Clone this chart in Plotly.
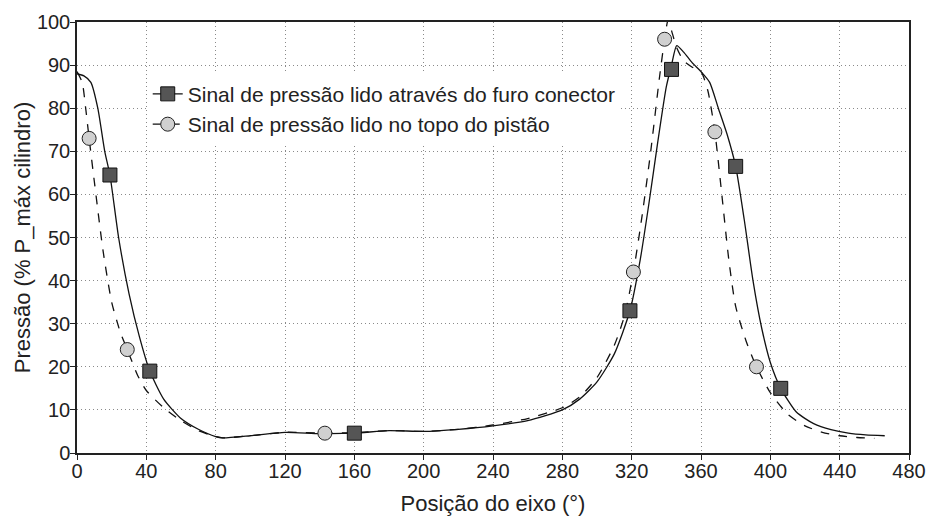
import plotly.graph_objects as go

# Curve: pressure read through the connector hole (solid)
x_furo = [0, 4, 8, 12, 16, 19, 24, 30, 36, 42, 50, 60, 70, 80, 84, 100, 120, 140, 160, 180,
          200, 220, 240, 260, 280, 290, 300, 310, 319, 325, 330, 335, 340, 343, 346, 350, 355,
          360, 365, 370, 375, 380, 385, 390, 395, 400, 406, 415, 425, 435, 445, 455, 466]
y_furo = [88, 87.5, 86, 80, 70, 64.5, 50, 37, 27, 19, 12.5, 8, 5.5, 3.8, 3.5, 4, 4.8, 4.5, 4.6, 5.2,
          5.0, 5.5, 6.3, 7.5, 10, 12.5, 16.5, 23, 33, 45, 58, 72, 85, 90, 94.5, 93, 90.5,
          88.5, 86, 80, 74, 66.5, 54, 40, 29, 21, 15, 9.5, 6.8, 5.4, 4.6, 4.2, 4]

# Curve: pressure read at the piston top (dashed)
x_pistao = [0, 3, 5, 7, 10, 15, 20, 25, 29, 35, 40, 50, 60, 70, 80, 84, 100, 120, 143, 160, 180,
            200, 220, 240, 260, 280, 290, 300, 310, 316, 321, 326, 331, 336, 339, 341, 343, 346,
            350, 355, 360, 364, 368, 372, 376, 380, 386, 392, 400, 410, 420, 430, 440, 450, 460]
y_pistao = [88.5, 86, 80, 73, 63, 47, 35, 28, 24, 18, 14.5, 10.5, 7.5, 5.2, 3.8, 3.5, 4, 4.8, 4.6, 4.7, 5.2,
            5.0, 5.5, 6.5, 8, 10.5, 13, 17.5, 25, 32, 42, 55, 70, 87, 96, 100.5, 98, 94,
            91, 89.5, 88.5, 84, 74.5, 60, 45, 34, 26, 20, 14, 9, 6.3, 4.8, 4, 3.6, 3.4]

# Marker positions
mk_furo_x = [19, 42, 160, 319, 343, 380, 406]
mk_furo_y = [64.5, 19, 4.6, 33, 89, 66.5, 15]
mk_pistao_x = [7, 29, 143, 321, 339, 368, 392]
mk_pistao_y = [73, 24, 4.6, 42, 96, 74.5, 20]

name_furo = "Sinal de pressão lido através do furo conector"
name_pistao = "Sinal de pressão lido no topo do pistão"

x_ticks = list(range(0, 481, 40))
y_ticks = list(range(0, 101, 10))

sq_marker = dict(symbol="square", size=14, color="#555555", line=dict(color="#111111", width=1))
ci_marker = dict(symbol="circle", size=14, color="#d0d0d0", line=dict(color="#222222", width=1))

fig = go.Figure()
fig.add_trace(go.Scatter(x=x_pistao, y=y_pistao, mode="lines", showlegend=False,
                         line=dict(color="#111111", width=1.3, dash="dash", shape="spline", smoothing=0.6)))
fig.add_trace(go.Scatter(x=x_furo, y=y_furo, mode="lines", showlegend=False,
                         line=dict(color="#111111", width=1.3, shape="spline", smoothing=0.6)))
fig.add_trace(go.Scatter(x=mk_pistao_x, y=mk_pistao_y, mode="markers", showlegend=False,
                         marker=ci_marker, cliponaxis=False))
fig.add_trace(go.Scatter(x=mk_furo_x, y=mk_furo_y, mode="markers", showlegend=False,
                         marker=sq_marker, cliponaxis=False))
# legend entries
fig.add_trace(go.Scatter(x=[None], y=[None], mode="lines+markers", name=name_furo,
                         line=dict(color="#111111", width=1.3), marker=sq_marker))
fig.add_trace(go.Scatter(x=[None], y=[None], mode="lines+markers", name=name_pistao,
                         line=dict(color="#111111", width=1.3, dash="dash"), marker=ci_marker))

font_family = "Liberation Sans, Arial, sans-serif"
grid_style = dict(showgrid=True, gridcolor="#8a8a8a", griddash="1px,3px", gridwidth=1)
fig.update_layout(
    width=928, height=516,
    margin=dict(l=77, r=19, t=22, b=63, autoexpand=False),
    paper_bgcolor="white", plot_bgcolor="white",
    font=dict(family=font_family, size=18, color="#222222"),
    showlegend=True,
    legend=dict(x=0.085, y=0.88, xanchor="left", yanchor="top", bgcolor="white",
                font=dict(size=21, color="#222222"), itemwidth=30, tracegroupgap=0),
    xaxis=dict(range=[0, 480], tickvals=x_ticks, ticks="outside", ticklen=5, tickcolor="#222",
               showline=True, linecolor="#222222", linewidth=1.5, mirror=True, automargin=False,
               zeroline=False, title=dict(text="Posição do eixo (°)", standoff=17),
               ticklabelstandoff=-6,
               tickfont=dict(size=20), **grid_style),
    yaxis=dict(range=[0, 100], tickvals=y_ticks, ticks="outside", ticklen=5, tickcolor="#222",
               showline=True, linecolor="#222222", linewidth=1.5, mirror=True, automargin=False,
               zeroline=False, title=dict(text="Pressão (% P_máx cilindro)", standoff=0),
               ticklabelstandoff=-4,
               tickfont=dict(size=20), **grid_style),
)

fig.write_html("out.html")
